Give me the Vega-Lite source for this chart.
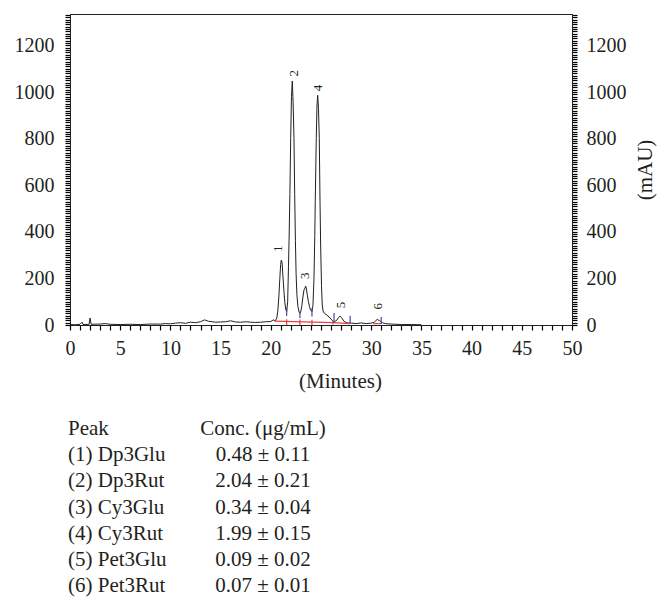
{
  "$schema": "https://vega.github.io/schema/vega-lite/v6.json",
  "autosize": "none",
  "padding": {"left": 70, "top": 14, "right": 601, "bottom": 595},
  "background": "white",
  "bounds": "flush",
  "spacing": 104,
  "config": {
    "font": "Liberation Serif",
    "text": {"font": "Liberation Serif", "color": "#231f20"},
    "axis": {"ticks": true, "tickWidth": 1.2, "tickOpacity": 1, "domainWidth": 1}
  },
  "datasets": {
    "trace": [
      {"t": 0, "v": 2}, {"t": 0.5, "v": 1}, {"t": 1.0, "v": 3}, {"t": 1.2, "v": 12}, {"t": 1.3, "v": 2},
      {"t": 1.9, "v": 3}, {"t": 2.0, "v": 30}, {"t": 2.1, "v": 3}, {"t": 3, "v": 4}, {"t": 3.5, "v": 6},
      {"t": 4, "v": 3}, {"t": 5, "v": 2}, {"t": 6, "v": 3}, {"t": 7, "v": 2}, {"t": 8, "v": 4},
      {"t": 9, "v": 4}, {"t": 9.5, "v": 6}, {"t": 10, "v": 5}, {"t": 10.5, "v": 8}, {"t": 11, "v": 10},
      {"t": 11.5, "v": 7}, {"t": 12, "v": 12}, {"t": 12.5, "v": 10}, {"t": 13, "v": 14}, {"t": 13.4, "v": 22},
      {"t": 13.8, "v": 16}, {"t": 14.5, "v": 12}, {"t": 15, "v": 13}, {"t": 15.5, "v": 14}, {"t": 16, "v": 18},
      {"t": 16.5, "v": 13}, {"t": 17, "v": 12}, {"t": 17.5, "v": 14}, {"t": 18, "v": 12}, {"t": 18.5, "v": 11},
      {"t": 19, "v": 12}, {"t": 19.5, "v": 14}, {"t": 20, "v": 15}, {"t": 20.25, "v": 22}, {"t": 20.45, "v": 18},
      {"t": 20.6, "v": 30}, {"t": 20.7, "v": 60}, {"t": 20.8, "v": 120}, {"t": 20.9, "v": 200}, {"t": 20.98, "v": 260},
      {"t": 21.05, "v": 279}, {"t": 21.12, "v": 270}, {"t": 21.2, "v": 215}, {"t": 21.3, "v": 150}, {"t": 21.4, "v": 95},
      {"t": 21.5, "v": 65}, {"t": 21.58, "v": 57}, {"t": 21.68, "v": 100}, {"t": 21.76, "v": 250}, {"t": 21.82, "v": 364},
      {"t": 21.9, "v": 560}, {"t": 21.98, "v": 800}, {"t": 22.06, "v": 980}, {"t": 22.14, "v": 1047}, {"t": 22.22, "v": 960},
      {"t": 22.31, "v": 800}, {"t": 22.38, "v": 560}, {"t": 22.45, "v": 364}, {"t": 22.52, "v": 220}, {"t": 22.6, "v": 130},
      {"t": 22.7, "v": 80}, {"t": 22.82, "v": 55}, {"t": 22.9, "v": 50}, {"t": 23.0, "v": 60}, {"t": 23.1, "v": 85},
      {"t": 23.2, "v": 120}, {"t": 23.3, "v": 150}, {"t": 23.38, "v": 155}, {"t": 23.47, "v": 167}, {"t": 23.55, "v": 155},
      {"t": 23.65, "v": 125}, {"t": 23.75, "v": 100}, {"t": 23.85, "v": 80}, {"t": 23.95, "v": 65}, {"t": 24.1, "v": 57},
      {"t": 24.2, "v": 85}, {"t": 24.3, "v": 200}, {"t": 24.38, "v": 380}, {"t": 24.43, "v": 536}, {"t": 24.53, "v": 800},
      {"t": 24.6, "v": 940}, {"t": 24.67, "v": 986}, {"t": 24.75, "v": 930}, {"t": 24.83, "v": 800}, {"t": 24.9, "v": 536},
      {"t": 24.97, "v": 330}, {"t": 25.05, "v": 170}, {"t": 25.12, "v": 90}, {"t": 25.2, "v": 60}, {"t": 25.35, "v": 50},
      {"t": 25.6, "v": 42}, {"t": 25.9, "v": 30}, {"t": 26.15, "v": 18}, {"t": 26.35, "v": 14}, {"t": 26.6, "v": 22},
      {"t": 26.75, "v": 32}, {"t": 26.9, "v": 38}, {"t": 27.05, "v": 32}, {"t": 27.3, "v": 15}, {"t": 27.6, "v": 9},
      {"t": 28, "v": 8}, {"t": 28.5, "v": 6}, {"t": 29, "v": 9}, {"t": 29.5, "v": 6}, {"t": 30, "v": 8},
      {"t": 30.3, "v": 12}, {"t": 30.6, "v": 24}, {"t": 30.85, "v": 18}, {"t": 31.1, "v": 10}, {"t": 31.4, "v": 6},
      {"t": 32, "v": 4}, {"t": 33, "v": 2}, {"t": 34, "v": 2}, {"t": 35, "v": 1}
    ],
    "redbase": [
      {"t": 20.4, "v": 17, "t2": 26.2, "v2": 10},
      {"t": 26.2, "v": 10, "t2": 27.9, "v2": 6},
      {"t": 30.2, "v": 6, "t2": 31.0, "v2": 6}
    ],
    "redtick": [
      {"t": 21.58, "v": 0, "v2": 25},
      {"t": 22.9, "v": 0, "v2": 24},
      {"t": 24.1, "v": 0, "v2": 22},
      {"t": 26.2, "v": 2, "v2": 18}
    ],
    "bluetick": [
      {"t": 21.58, "v": 39, "v2": 73},
      {"t": 22.9, "v": 30, "v2": 57},
      {"t": 24.1, "v": 37, "v2": 73},
      {"t": 26.3, "v": 9, "v2": 51},
      {"t": 27.9, "v": 9, "v2": 40},
      {"t": 31.0, "v": 4, "v2": 34}
    ],
    "labels": [
      {"t": 20.75, "v": 313, "lab": "1"},
      {"t": 22.31, "v": 1067, "lab": "2"},
      {"t": 23.4, "v": 197, "lab": "3"},
      {"t": 24.67, "v": 1003, "lab": "4"},
      {"t": 26.96, "v": 72, "lab": "5"},
      {"t": 30.7, "v": 66, "lab": "6"}
    ],
    "table": [
      {"row": 0, "col": "Peak", "txt": "Peak"},
      {"row": 0, "col": "Conc", "txt": "Conc. (μg/mL)"},
      {"row": 1, "col": "Peak", "txt": "(1) Dp3Glu"},
      {"row": 1, "col": "Conc", "txt": "0.48 ± 0.11"},
      {"row": 2, "col": "Peak", "txt": "(2) Dp3Rut"},
      {"row": 2, "col": "Conc", "txt": "2.04 ± 0.21"},
      {"row": 3, "col": "Peak", "txt": "(3) Cy3Glu"},
      {"row": 3, "col": "Conc", "txt": "0.34 ± 0.04"},
      {"row": 4, "col": "Peak", "txt": "(4) Cy3Rut"},
      {"row": 4, "col": "Conc", "txt": "1.99 ± 0.15"},
      {"row": 5, "col": "Peak", "txt": "(5) Pet3Glu"},
      {"row": 5, "col": "Conc", "txt": "0.09 ± 0.02"},
      {"row": 6, "col": "Peak", "txt": "(6) Pet3Rut"},
      {"row": 6, "col": "Conc", "txt": "0.07 ± 0.01"}
    ]
  },
  "vconcat": [
    {
      "width": 502,
      "height": 311,
      "view": {"stroke": "#231f20", "strokeWidth": 1},
      "encoding": {
        "x": {
          "field": "t", "type": "quantitative",
          "scale": {"domain": [0, 50], "nice": false},
          "axis": {
            "values": [0,1,2,3,4,5,6,7,8,9,10,11,12,13,14,15,16,17,18,19,20,21,22,23,24,25,26,27,28,29,30,31,32,33,34,35,36,37,38,39,40,41,42,43,44,45,46,47,48,49,50],
            "format": "d",
            "labelExpr": "datum.value % 5 === 0 ? datum.label : ''",
            "labelOverlap": false, "labelFlush": false, "grid": false,
            "ticks": true, "tickSize": 5, "tickColor": "#000000", "domainColor": "#231f20",
            "labelFont": "Liberation Serif", "labelFontSize": 20, "labelColor": "#231f20", "labelPadding": 8,
            "title": "(Minutes)", "titleFont": "Liberation Serif", "titleFontSize": 21, "titleFontWeight": "normal",
            "titleColor": "#231f20", "titlePadding": 12, "titleX": 270
          }
        },
        "y": {
          "field": "v", "type": "quantitative",
          "scale": {"domain": [0, 1335], "nice": false},
          "axis": null
        }
      },
      "layer": [
        {
          "data": {"name": "trace"},
          "mark": {"type": "line", "color": "#231f20", "strokeWidth": 1, "clip": true},
          "encoding": {
            "y": {
              "field": "v", "type": "quantitative",
              "scale": {"domain": [0, 1335], "nice": false},
              "axis": {
                "orient": "left", "title": null, "format": "d",
                "values": [0,10,20,30,40,50,60,70,80,90,100,110,120,130,140,150,160,170,180,190,200,210,220,230,240,250,260,270,280,290,300,310,320,330,340,350,360,370,380,390,400,410,420,430,440,450,460,470,480,490,500,510,520,530,540,550,560,570,580,590,600,610,620,630,640,650,660,670,680,690,700,710,720,730,740,750,760,770,780,790,800,810,820,830,840,850,860,870,880,890,900,910,920,930,940,950,960,970,980,990,1000,1010,1020,1030,1040,1050,1060,1070,1080,1090,1100,1110,1120,1130,1140,1150,1160,1170,1180,1190,1200,1210,1220,1230,1240,1250,1260,1270,1280,1290,1300,1310,1320,1330],
                "labelExpr": "datum.value % 200 === 0 && datum.value <= 1200 ? datum.label : ''",
                "labelOverlap": false, "labelFlush": false, "grid": false,
                "ticks": true, "tickSize": 5, "tickColor": "#000000", "domainColor": "#231f20",
                "labelFont": "Liberation Serif", "labelFontSize": 20, "labelColor": "#231f20", "labelPadding": 11
              }
            }
          }
        },
        {
          "data": {"name": "redbase"},
          "mark": {"type": "rule", "color": "#e8403a", "strokeWidth": 1.2},
          "encoding": {"x2": {"field": "t2"}, "y2": {"field": "v2"}}
        },
        {
          "data": {"name": "redtick"},
          "mark": {"type": "rule", "color": "#e8403a", "strokeWidth": 1.2},
          "encoding": {"y2": {"field": "v2"}}
        },
        {
          "data": {"name": "bluetick"},
          "mark": {"type": "rule", "color": "#4a4aa8", "strokeWidth": 1.2},
          "encoding": {
            "y": {
              "field": "v", "type": "quantitative",
              "scale": {"domain": [0, 1335], "nice": false},
              "axis": {
                "orient": "right", "format": "d",
                "values": [0,10,20,30,40,50,60,70,80,90,100,110,120,130,140,150,160,170,180,190,200,210,220,230,240,250,260,270,280,290,300,310,320,330,340,350,360,370,380,390,400,410,420,430,440,450,460,470,480,490,500,510,520,530,540,550,560,570,580,590,600,610,620,630,640,650,660,670,680,690,700,710,720,730,740,750,760,770,780,790,800,810,820,830,840,850,860,870,880,890,900,910,920,930,940,950,960,970,980,990,1000,1010,1020,1030,1040,1050,1060,1070,1080,1090,1100,1110,1120,1130,1140,1150,1160,1170,1180,1190,1200,1210,1220,1230,1240,1250,1260,1270,1280,1290,1300,1310,1320,1330],
                "labelExpr": "datum.value % 200 === 0 && datum.value <= 1200 ? datum.label : ''",
                "labelOverlap": false, "labelFlush": false, "grid": false,
                "ticks": true, "tickSize": 5, "tickColor": "#000000", "domainColor": "#231f20",
                "labelFont": "Liberation Serif", "labelFontSize": 20, "labelColor": "#231f20", "labelPadding": 9,
                "title": "(mAU)", "titleFont": "Liberation Serif", "titleFontSize": 21, "titleFontWeight": "normal",
                "titleColor": "#231f20", "titleAngle": 270, "titleBaseline": "top", "titlePadding": 8
              }
            },
            "y2": {"field": "v2"}
          }
        },
        {
          "data": {"name": "labels"},
          "mark": {"type": "text", "angle": 270, "align": "left", "baseline": "middle", "fontSize": 13, "font": "Liberation Serif", "color": "#231f20"},
          "encoding": {"text": {"field": "lab"}}
        }
      ],
      "resolve": {"axis": {"y": "independent"}}
    },
    {
      "width": 193,
      "height": 157,
      "view": {"stroke": null},
      "data": {"name": "table"},
      "encoding": {
        "x": {"field": "col", "type": "nominal", "scale": {"type": "point", "padding": 0, "domain": ["Peak", "Conc"]}, "axis": null},
        "y": {"field": "row", "type": "ordinal", "scale": {"type": "point", "padding": 0}, "axis": null},
        "text": {"field": "txt"}
      },
      "layer": [
        {
          "transform": [{"filter": "datum.col === 'Peak'"}],
          "mark": {"type": "text", "align": "left", "baseline": "middle", "fontSize": 21, "dx": -2, "font": "Liberation Serif", "color": "#231f20"}
        },
        {
          "transform": [{"filter": "datum.col === 'Conc'"}],
          "mark": {"type": "text", "align": "center", "baseline": "middle", "fontSize": 21, "font": "Liberation Serif", "color": "#231f20"}
        }
      ]
    }
  ]
}
